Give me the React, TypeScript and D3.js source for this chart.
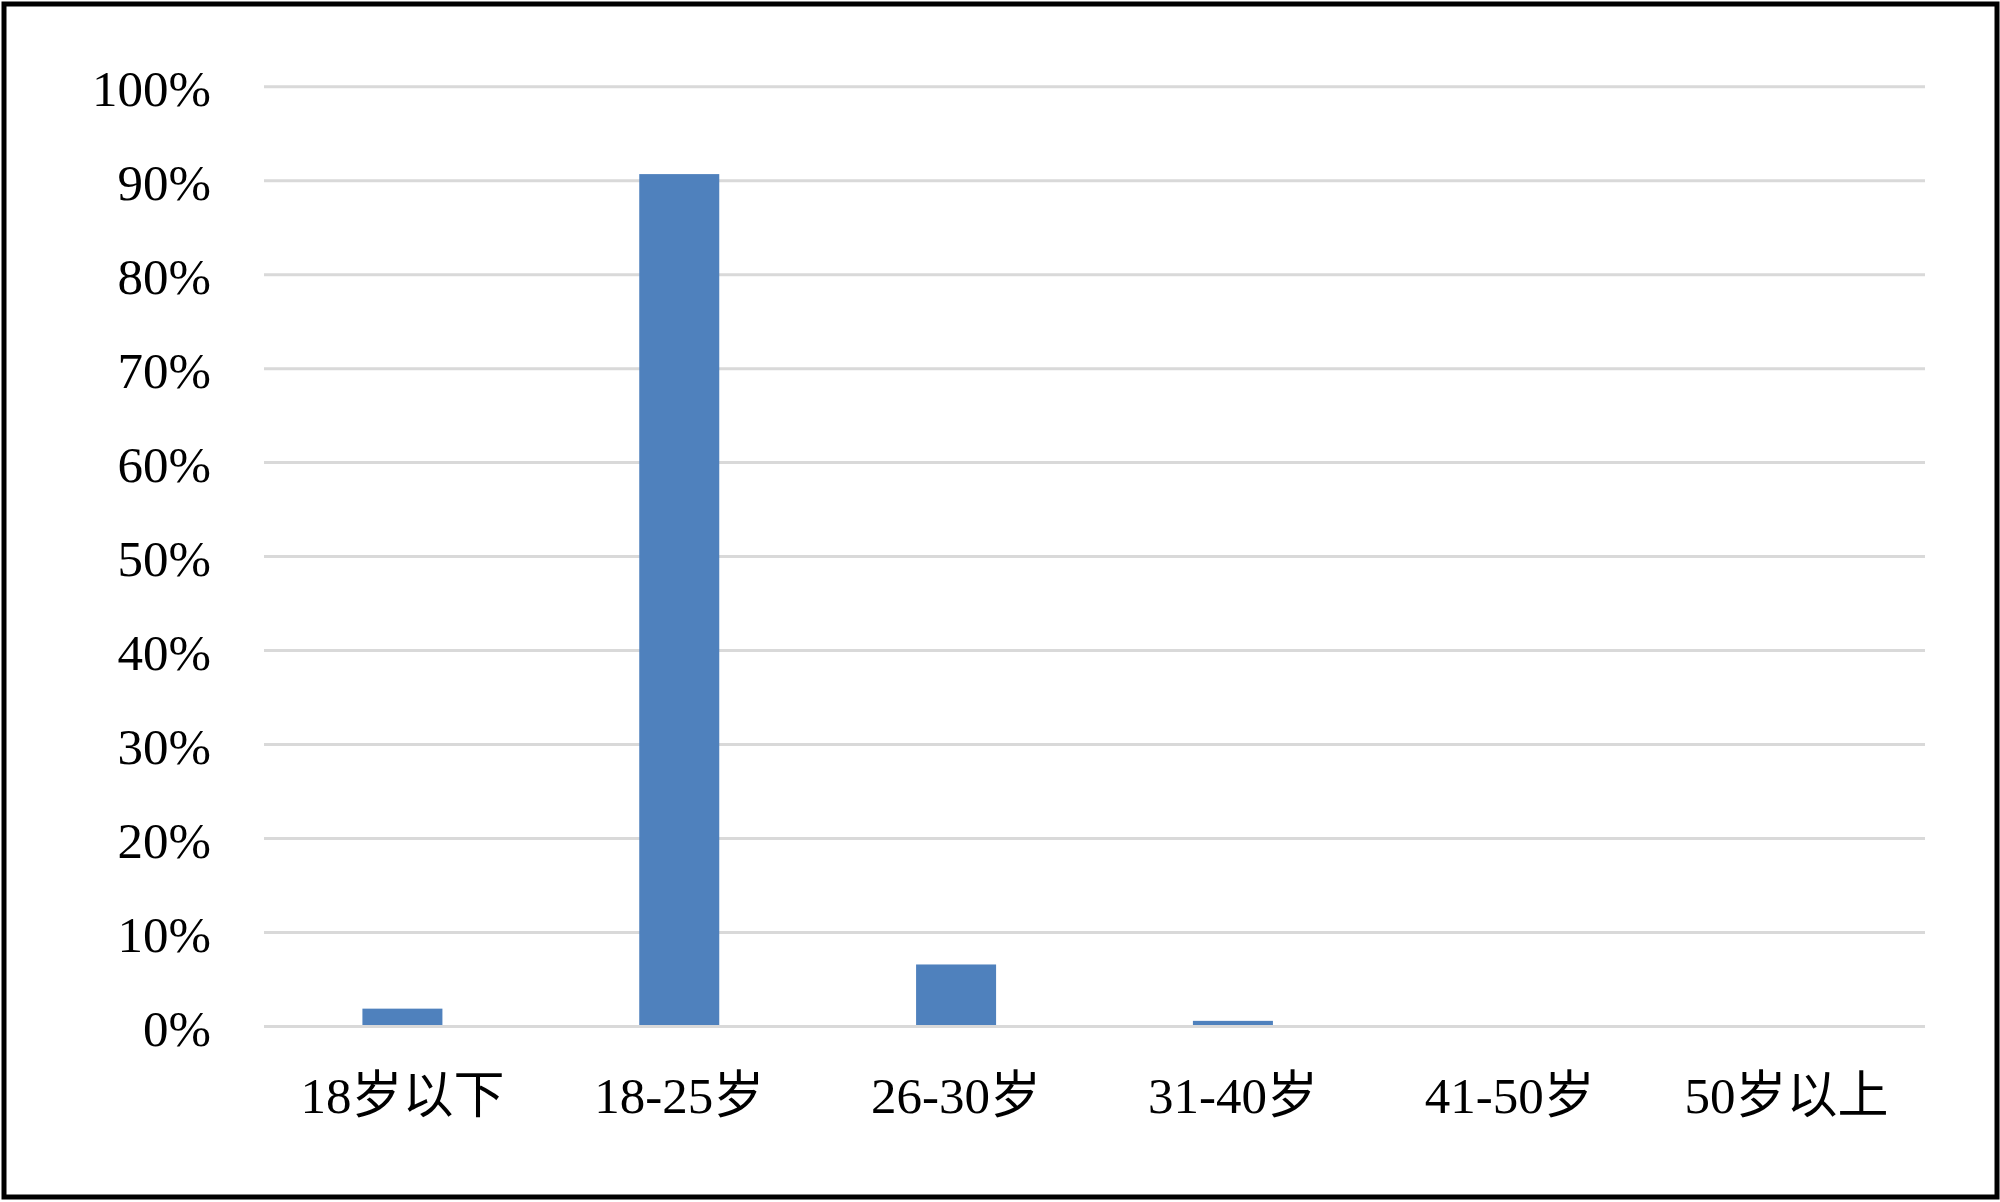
import { useEffect, useRef } from "react";
import * as d3 from "d3";

// age groups and their share of respondents
const categories = ["18岁以下", "18-25岁", "26-30岁", "31-40岁", "41-50岁", "50岁以上"];
const shares = [0.019, 0.907, 0.066, 0.006, 0, 0];
const yTicks = [0, 0.1, 0.2, 0.3, 0.4, 0.5, 0.6, 0.7, 0.8, 0.9, 1.0];

export default function App() {
  const chartRef = useRef<SVGSVGElement | null>(null);

  useEffect(() => {
    const width = 2000;
    const height = 1202;
    const margin = { top: 86.7, right: 75, bottom: 175.5, left: 264 };
    const fontFamily = "'Liberation Serif', 'Times New Roman', 'Noto Sans CJK SC', serif";

    const svg = d3.select(chartRef.current);
    svg.selectAll("*").remove();
    svg.attr("width", width).attr("height", height);

    svg
      .append("rect")
      .attr("width", width)
      .attr("height", height)
      .attr("fill", "#ffffff");

    const data = categories.map((c, i) => ({ category: c, value: shares[i] }));

    const xScale = d3
      .scaleBand()
      .domain(categories)
      .range([margin.left, width - margin.right])
      .paddingInner(0.711)
      .paddingOuter(0.3555);

    const yScale = d3
      .scaleLinear()
      .domain([0, 1])
      .range([height - margin.bottom, margin.top]);

    // gridlines
    svg
      .append("g")
      .selectAll("line")
      .data(yTicks)
      .enter()
      .append("line")
      .attr("x1", margin.left)
      .attr("x2", width - margin.right)
      .attr("y1", (d) => yScale(d))
      .attr("y2", (d) => yScale(d))
      .attr("stroke", "#d9d9d9")
      .attr("stroke-width", 3);

    // bars
    svg
      .append("g")
      .selectAll("rect")
      .data(data)
      .enter()
      .append("rect")
      .attr("x", (d) => xScale(d.category)!)
      .attr("y", (d) => yScale(d.value))
      .attr("width", xScale.bandwidth())
      .attr("height", (d) => Math.max(0, yScale(0) - 1.5 - yScale(d.value)))
      .attr("fill", "#4f81bd");

    // y tick labels
    svg
      .append("g")
      .selectAll("text")
      .data(yTicks)
      .enter()
      .append("text")
      .attr("x", 211)
      .attr("y", (d) => yScale(d) + 19)
      .attr("text-anchor", "end")
      .style("font-family", fontFamily)
      .style("font-size", "51px")
      .attr("fill", "#000000")
      .text((d) => d3.format(".0%")(d));

    // x tick labels
    svg
      .append("g")
      .selectAll("text")
      .data(categories)
      .enter()
      .append("text")
      .attr("x", (d) => xScale(d)! + xScale.bandwidth() / 2)
      .attr("y", 1113)
      .attr("text-anchor", "middle")
      .style("font-family", fontFamily)
      .style("font-size", "51px")
      .attr("fill", "#000000")
      .text((d) => d);

    // outer frame
    svg
      .append("rect")
      .attr("x", 4)
      .attr("y", 4)
      .attr("width", width - 7)
      .attr("height", height - 9)
      .attr("fill", "none")
      .attr("stroke", "#000000")
      .attr("stroke-width", 5);
  }, []);

  return (
    <svg
      ref={chartRef}
      style={{ position: "absolute", left: 0, top: 0, display: "block" }}
    />
  );
}
